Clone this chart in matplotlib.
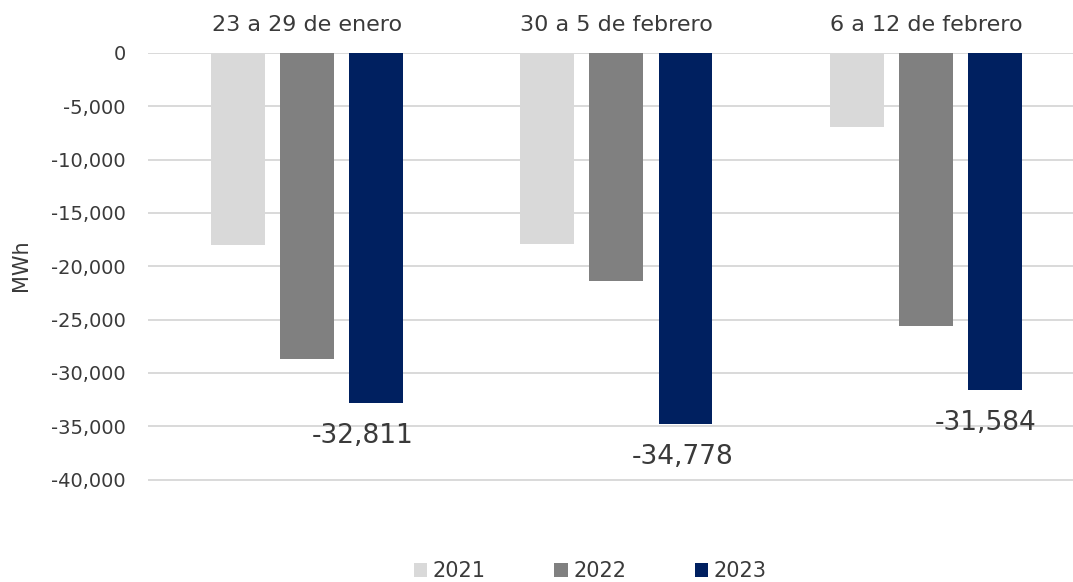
import numpy as np
import matplotlib.pyplot as plt

# Data
semanas = ['23 a 29 de enero', '30 a 5 de febrero', '6 a 12 de febrero']
anios = ['2021', '2022', '2023']
v2021 = [-18000, -17900, -6900]
v2022 = [-28700, -21400, -25600]
v2023 = [-32811, -34778, -31584]
yticks = [0, -5000, -10000, -15000, -20000, -25000, -30000, -35000, -40000]

colores = ['#d9d9d9', '#808080', '#002060']
txt = '#3a3a3a'
plt.rcParams['font.family'] = ['DejaVu Sans']

fig = plt.figure(figsize=(10.73, 5.82), dpi=100)
ax = fig.add_axes([0.138, 0.0842, 0.862, 0.8248])

x = np.arange(len(semanas))
ancho = 0.174
paso = 0.223
series = [v2021, v2022, v2023]
for i, (vals, col, lab) in enumerate(zip(series, colores, anios)):
    ax.bar(x + (i - 1) * paso, vals, ancho, color=col, label=lab, zorder=3)

# data labels only for 2023
dx = [-13, -3, -9]
for xi, v, d in zip(x, v2023, dx):
    ax.annotate(f'{v:,}', (xi + paso, v), xytext=(d * 0.72, -24),
                textcoords='offset points', ha='center', va='center',
                fontsize=19, color=txt)

ax.set_ylim(-45000, 0)
ax.set_xlim(-0.513, 2.475)
ax.set_yticks(yticks)
ax.set_yticklabels([f'{t:,}' for t in yticks])
ax.grid(axis='y', color='#d9d9d9', linewidth=1.4, zorder=0)
ax.xaxis.tick_top()
ax.set_xticks(x)
ax.set_xticklabels(semanas)
ax.tick_params(axis='x', length=0, pad=13, labelsize=16, labelcolor=txt)
ax.tick_params(axis='y', length=0, pad=16, labelsize=14, labelcolor=txt)
for s in ax.spines.values():
    s.set_visible(False)
ax.set_ylabel('MWh', fontsize=15, color=txt)
ax.yaxis.set_label_coords(-0.127, 0.558)

leg = fig.legend(loc='center', bbox_to_anchor=(0.55, 0.019), ncol=3,
                 frameon=False, fontsize=15, handlelength=0.65, handleheight=0.65,
                 handletextpad=0.25, columnspacing=3.3)
for t in leg.get_texts():
    t.set_color(txt)

fig.savefig('out.png', dpi=100)
